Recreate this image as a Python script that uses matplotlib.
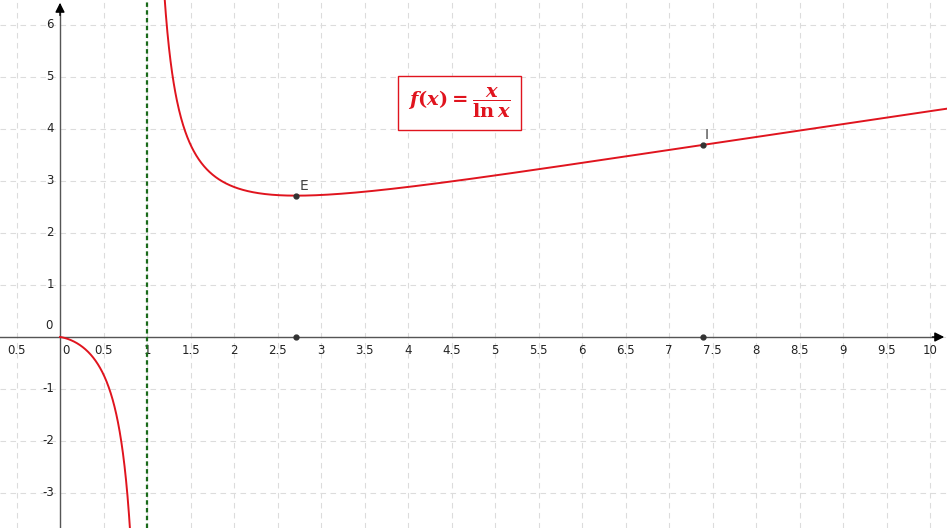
import matplotlib.pyplot as plt
import numpy as np

# tick labels along the axes
x_ticks = [-0.5, 0, 0.5, 1, 1.5, 2, 2.5, 3, 3.5, 4, 4.5, 5, 5.5, 6, 6.5, 7, 7.5, 8, 8.5, 9, 9.5, 10]
x_labels = ["0.5", "0", "0.5", "1", "1.5", "2", "2.5", "3", "3.5", "4", "4.5", "5", "5.5",
            "6", "6.5", "7", "7.5", "8", "8.5", "9", "9.5", "10"]
y_ticks = [-3, -2, -1, 0, 1, 2, 3, 4, 5, 6]
y_labels = ["-3", "-2", "-1", "0", "1", "2", "3", "4", "5", "6"]

# marked points
point_names = ["E", "I"]
point_x = [2.718, 7.389]
point_y = [2.718, 3.695]

asymptote_x = 1.0

xmin, xmax = -60 / 87, 887 / 87
ymin, ymax = -191 / 52, 337 / 52

plt.rcParams["mathtext.fontset"] = "custom"
plt.rcParams["mathtext.rm"] = "DejaVu Serif:bold"
plt.rcParams["mathtext.it"] = "DejaVu Serif:italic:bold"

fig = plt.figure(figsize=(9.47, 5.28), dpi=100)
ax = fig.add_axes([0, 0, 1, 1])
ax.set_xlim(xmin, xmax)
ax.set_ylim(ymin, ymax)
for s in ax.spines.values():
    s.set_visible(False)
ax.set_xticks([])
ax.set_yticks([])

grid_kw = dict(color="#dcdcdc", lw=0.8, ls=(0, (5, 4)), zorder=0)
for gx in np.arange(-0.5, 10.5, 0.5):
    ax.axvline(gx, **grid_kw)
for gy in range(-3, 7):
    ax.axhline(gy, **grid_kw)

# axes with arrows
ax.plot([xmin, xmax - 0.12], [0, 0], color="#555555", lw=1, zorder=2)
ax.plot([0, 0], [ymin, ymax - 0.2], color="#555555", lw=1, zorder=2)
ax.annotate("", xy=(xmax, 0), xytext=(xmax - 0.2, 0),
            arrowprops=dict(arrowstyle="-|>", color="black", lw=1, mutation_scale=14))
ax.annotate("", xy=(0, ymax), xytext=(0, ymax - 0.35),
            arrowprops=dict(arrowstyle="-|>", color="black", lw=1, mutation_scale=14))

tick_font = dict(fontsize=8.5, color="#222222", family="DejaVu Sans")
for xv, lab in zip(x_ticks, x_labels):
    if xv == 0:
        ax.text(0.07, -0.14, lab, ha="center", va="top", **tick_font)
    else:
        ax.text(xv, -0.14, lab, ha="center", va="top", **tick_font)
for yv, lab in zip(y_ticks, y_labels):
    if yv == 0:
        ax.text(-0.09, 0.1, lab, ha="right", va="bottom", **tick_font)
    else:
        ax.text(-0.07, yv, lab, ha="right", va="center", **tick_font)

# function curve f(x) = x / ln x
red = "#e0141e"
xl = np.linspace(0.0005, 0.84, 600)
ax.plot(xl, xl / np.log(xl), color=red, lw=1.4, zorder=3)
xr = np.linspace(1.15, xmax, 1500)
ax.plot(xr, xr / np.log(xr), color=red, lw=1.4, zorder=3)

# vertical asymptote
ax.axvline(asymptote_x, color="#1a6a1a", lw=1.6, ls=(0, (2, 1.5)), zorder=4)

# points
for name, px, py in zip(point_names, point_x, point_y):
    ax.plot(px, py, "o", color="#333333", ms=3.5, zorder=5)
    ax.plot(px, 0, "o", color="#333333", ms=3.5, zorder=5)
ax.text(point_x[0] + 0.04, point_y[0] + 0.05, point_names[0], fontsize=10, color="#444444",
        ha="left", va="bottom")
ax.text(point_x[1] + 0.02, point_y[1] + 0.05, point_names[1], fontsize=10, color="#444444",
        ha="left", va="bottom")

ax.text(4.59, 4.5, r"$f(x)=\dfrac{x}{\ln x}$", fontsize=14, color=red,
        ha="center", va="center",
        bbox=dict(boxstyle="square,pad=0.5", fc="white", ec=red, lw=1))

fig.savefig("out.png", dpi=100)
